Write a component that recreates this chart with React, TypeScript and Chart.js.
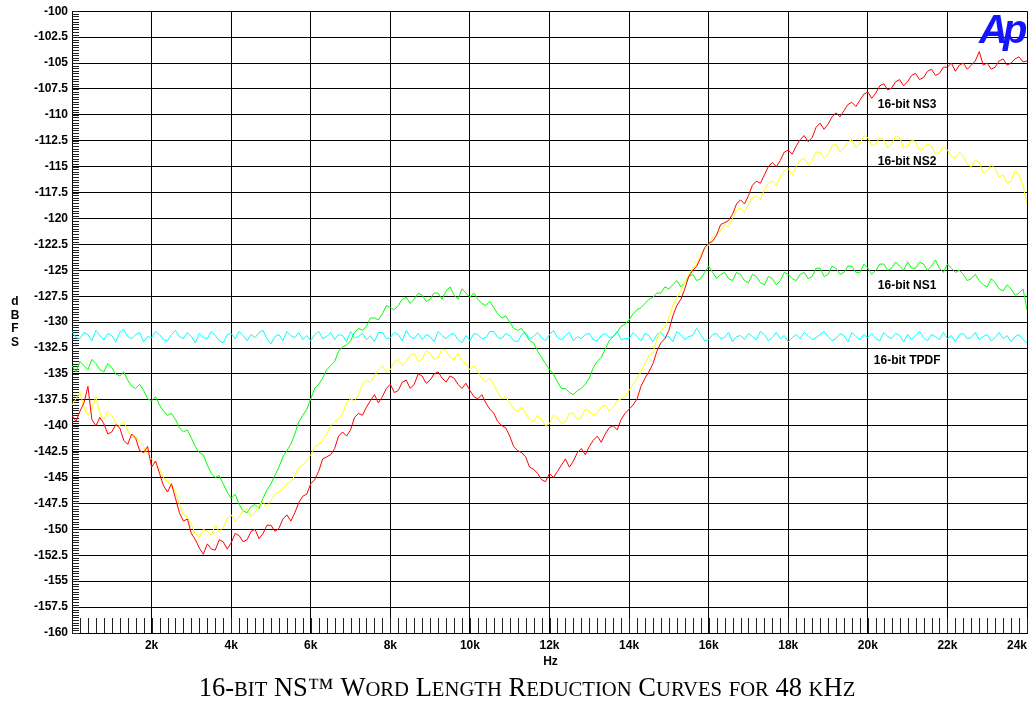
import { useEffect, useRef } from 'react';
import { Chart, registerables } from 'chart.js';

Chart.register(...registerables);

// Noise-shaped dither spectra, one reading every 100 Hz from 0 to 24 kHz (dBFS).
// Each row below covers 1 kHz.
const FREQ_STEP_HZ = 100;

const NS3 = [
  -139.0, -139.6, -138.6, -137.8, -136.2, -139.4, -140.0, -139.2, -139.8, -140.8,
  -140.6, -139.9, -140.2, -141.4, -141.8, -140.8, -141.2, -142.4, -142.6, -142.0,
  -144.0, -143.4, -144.6, -145.8, -146.4, -145.6, -147.0, -148.4, -149.2, -149.0,
  -150.4, -151.0, -151.8, -152.4, -151.4, -151.9, -152.0, -151.0, -151.2, -151.9,
  -151.3, -150.4, -150.6, -151.2, -151.0, -150.2, -150.0, -150.9, -150.4, -149.6,
  -149.6, -150.2, -149.9, -149.0, -148.6, -149.2, -148.4, -147.4, -146.8, -146.6,
  -145.6, -145.2, -144.4, -143.2, -143.0, -142.8, -142.2, -141.0, -140.6, -141.0,
  -140.4, -139.2, -138.8, -139.0, -138.2, -137.6, -137.0, -137.8, -137.2, -136.4,
  -136.0, -136.8, -136.6, -135.8, -135.6, -136.4, -136.0, -135.0, -135.2, -135.9,
  -135.6, -135.0, -134.8, -135.4, -135.8, -135.2, -135.4, -136.0, -136.4, -135.9,
  -136.6, -137.2, -137.4, -137.0, -137.8, -138.4, -138.8, -139.6, -140.0, -140.2,
  -141.0, -142.0, -142.4, -142.6, -143.0, -144.0, -144.2, -144.6, -145.2, -145.4,
  -144.6, -145.0, -144.4, -143.8, -143.2, -144.0, -143.4, -142.6, -142.2, -142.8,
  -142.0, -141.4, -141.0, -141.6, -140.8, -140.2, -140.0, -140.4, -139.4, -138.8,
  -138.4, -138.0, -137.4, -136.2, -135.4, -134.8, -134.0, -132.8, -132.0, -131.6,
  -130.8, -129.4, -128.4, -127.8, -126.8, -125.6, -125.0, -124.6, -123.8, -122.8,
  -122.4, -122.2, -121.6, -120.6, -120.4, -120.2, -119.6, -118.6, -118.2, -118.6,
  -117.8, -116.8, -116.4, -116.6, -115.8, -115.0, -114.6, -115.0, -114.4, -113.6,
  -113.4, -113.8, -113.0, -112.4, -112.0, -112.6, -112.2, -111.2, -110.8, -111.4,
  -110.9, -110.2, -109.8, -110.2, -109.6, -109.0, -108.8, -109.2, -108.6, -108.0,
  -107.8, -108.4, -107.9, -107.2, -107.0, -107.6, -107.4, -106.8, -106.6, -107.2,
  -106.8, -106.2, -106.0, -106.6, -106.4, -105.8, -105.6, -106.2, -106.0, -105.4,
  -105.4, -105.0, -105.8, -105.2, -105.0, -105.6, -105.2, -104.8, -103.9, -105.2,
  -105.0, -105.6, -105.4, -104.8, -104.6, -105.2, -105.0, -104.6, -104.4, -104.9,
  -104.8,
];

const NS2 = [
  -138.0, -137.4, -136.8, -138.2, -139.0, -138.4, -137.2, -138.8, -139.4, -138.6,
  -139.0, -139.8, -140.0, -139.6, -140.4, -141.2, -141.0, -141.6, -142.0, -142.8,
  -143.2, -143.6, -144.2, -145.0, -145.4, -145.8, -146.4, -147.6, -148.6, -148.8,
  -149.6, -150.4, -150.8, -150.0, -150.2, -150.6, -149.6, -150.2, -149.8, -149.0,
  -148.6, -149.2, -148.8, -148.2, -148.0, -148.8, -148.4, -147.6, -147.4, -147.8,
  -147.2, -146.6, -146.4, -146.0, -145.6, -145.4, -144.8, -144.0, -143.8, -143.4,
  -142.8, -142.0, -141.8, -141.4, -140.8, -140.0, -139.6, -139.4, -138.8, -137.8,
  -137.4, -137.6, -137.0, -136.0, -135.6, -135.8, -135.2, -134.6, -134.2, -134.8,
  -134.6, -133.8, -133.6, -134.2, -133.8, -133.2, -133.0, -133.8, -133.6, -132.8,
  -133.0, -133.6, -133.4, -132.6, -132.8, -133.4, -133.6, -133.0, -133.8, -134.0,
  -134.6, -134.2, -134.8, -135.4, -135.8, -135.4, -136.0, -136.8, -137.4, -137.2,
  -137.8, -138.4, -138.6, -138.2, -138.8, -139.4, -139.6, -139.0, -139.4, -140.0,
  -139.8, -139.0, -139.2, -139.8, -139.6, -138.8, -138.8, -139.4, -139.2, -138.4,
  -138.6, -139.0, -138.8, -138.2, -138.0, -138.6, -138.2, -137.6, -137.4, -137.2,
  -136.6, -136.0, -135.4, -134.8, -134.0, -133.2, -133.0, -131.6, -130.8, -130.4,
  -129.6, -128.4, -127.6, -127.0, -126.2, -125.4, -124.8, -124.4, -123.4, -123.0,
  -122.6, -121.8, -121.4, -121.2, -120.6, -120.8, -120.0, -119.2, -119.0, -119.4,
  -118.6, -118.0, -117.8, -118.2, -117.2, -116.6, -116.4, -116.8, -116.0, -115.4,
  -115.2, -115.8, -115.0, -114.4, -114.2, -114.8, -114.4, -113.6, -113.6, -114.2,
  -113.8, -113.0, -112.8, -113.6, -113.2, -112.6, -112.4, -113.2, -112.8, -112.0,
  -112.2, -113.0, -112.8, -112.2, -112.4, -113.2, -112.8, -112.0, -112.2, -113.2,
  -113.0, -112.4, -112.6, -113.4, -113.2, -112.8, -113.0, -113.8, -113.6, -113.0,
  -113.4, -114.0, -114.2, -113.6, -114.0, -114.8, -115.0, -114.4, -114.6, -115.6,
  -115.4, -114.8, -115.2, -116.0, -115.8, -116.6, -116.4, -115.4, -115.8, -116.8,
  -118.6,
];

const NS1 = [
  -134.2, -134.8, -133.8, -134.2, -134.6, -133.6, -134.0, -134.6, -134.8, -134.0,
  -134.4, -135.0, -135.2, -134.8, -135.6, -136.2, -136.4, -136.0, -136.6, -137.4,
  -137.6, -137.2, -138.0, -138.6, -139.0, -138.8, -139.4, -140.2, -140.6, -140.4,
  -141.2, -142.0, -142.6, -142.8, -143.8, -144.6, -145.0, -144.8, -145.6, -146.4,
  -147.0, -146.6, -147.6, -148.2, -148.4, -147.8, -147.6, -148.0, -147.0, -146.2,
  -145.6, -144.8, -144.0, -143.0, -142.4, -141.8, -140.8, -139.6, -139.0, -138.4,
  -137.4, -136.4, -136.0, -135.4, -134.6, -134.2, -133.8, -132.8, -132.4, -132.2,
  -131.8, -131.0, -130.6, -130.8, -130.4, -129.6, -129.6, -129.8, -129.2, -128.4,
  -128.6, -128.8, -128.4, -127.8, -127.6, -128.2, -127.8, -127.2, -127.4, -128.0,
  -127.8, -127.2, -127.2, -127.8, -127.0, -126.6, -127.4, -127.8, -126.8, -127.2,
  -127.6, -127.2, -127.8, -128.2, -128.4, -128.0, -128.6, -129.2, -129.6, -129.4,
  -130.0, -130.6, -130.8, -130.6, -131.2, -131.8, -132.0, -132.8, -133.4, -134.0,
  -134.6, -135.0, -135.8, -136.4, -136.4, -136.8, -137.0, -136.6, -136.4, -136.0,
  -135.4, -134.4, -133.8, -133.4, -132.6, -131.8, -131.4, -131.0, -130.4, -130.2,
  -129.8, -129.2, -128.8, -128.6, -128.2, -127.8, -127.6, -127.2, -127.2, -126.6,
  -126.8, -126.4, -126.0, -126.6, -126.2, -125.6, -125.4, -126.0, -125.8, -125.2,
  -124.6, -125.2, -125.8, -125.4, -125.2, -125.8, -126.0, -125.2, -125.4, -126.0,
  -126.2, -125.4, -125.6, -126.2, -126.4, -125.6, -125.8, -126.4, -126.0, -125.2,
  -125.4, -125.8, -126.0, -125.4, -125.2, -125.8, -125.6, -124.8, -124.8, -125.6,
  -125.4, -124.6, -124.8, -125.4, -125.2, -124.6, -124.6, -125.2, -125.2, -124.4,
  -124.8, -125.4, -125.0, -124.4, -124.4, -125.0, -124.8, -124.2, -124.6, -125.0,
  -124.2, -124.8, -124.8, -124.2, -124.4, -125.0, -124.6, -124.0, -124.8, -125.2,
  -124.4, -124.8, -125.2, -125.0, -125.4, -126.0, -125.8, -125.4, -126.0, -126.4,
  -126.6, -125.8, -126.2, -126.8, -127.0, -126.4, -126.8, -127.4, -127.2, -126.8,
  -128.8,
];

const TPDF = [
  -130.9, -131.5, -131.6, -131.0, -131.2, -131.8, -130.8, -131.3, -131.7, -131.1,
  -131.3, -131.9, -131.0, -130.7, -131.4, -131.6, -131.2, -131.0, -131.9, -131.4,
  -131.5, -130.9, -131.2, -131.7, -131.8, -131.2, -130.8, -131.4, -131.6, -131.0,
  -131.4, -132.0, -131.1, -131.5, -131.6, -130.9, -131.3, -131.8, -132.0, -131.2,
  -131.1, -131.6, -130.9, -131.3, -131.8, -131.2, -131.5, -131.0, -130.8, -131.6,
  -132.1, -131.4, -131.2, -131.8, -130.9, -131.3, -131.5, -131.0, -131.7, -131.3,
  -131.8, -131.2, -130.9, -131.6, -131.4, -131.0, -131.7, -131.2, -131.3, -131.9,
  -130.9, -131.5, -131.4, -131.1, -131.7, -131.3, -131.9, -131.0, -131.0, -131.6,
  -131.5, -131.0, -131.2, -131.8, -130.8, -131.4, -131.6, -131.1, -131.7, -131.2,
  -131.4, -131.9, -130.9, -131.3, -131.6, -131.2, -131.1, -131.7, -132.0, -131.3,
  -131.8, -131.1, -131.2, -131.6, -131.5, -130.9, -130.9, -131.5, -131.6, -131.1,
  -131.3, -131.8, -131.9, -131.2, -131.0, -131.6, -131.4, -131.0, -131.5, -131.8,
  -131.2, -130.8, -131.5, -131.7, -131.3, -131.0, -131.8, -131.4, -131.6, -131.2,
  -131.1, -131.7, -131.8, -131.3, -131.1, -131.5, -131.4, -130.9, -131.7, -131.6,
  -131.6, -131.0, -131.4, -131.8, -131.1, -131.3, -131.9, -131.2, -131.0, -131.5,
  -131.4, -131.9, -130.9, -131.2, -131.7, -131.4, -131.3, -130.6, -131.2, -131.8,
  -131.7, -131.2, -131.1, -131.6, -131.5, -131.0, -131.9, -131.4, -131.3, -131.7,
  -131.1, -131.4, -131.7, -130.9, -131.2, -131.8, -131.5, -131.0, -131.6, -131.3,
  -131.9, -131.5, -131.2, -131.6, -131.0, -131.3, -131.7, -131.5, -131.2, -130.9,
  -131.4, -131.8, -131.6, -131.1, -131.3, -131.9, -131.0, -131.4, -131.7, -131.2,
  -131.5, -131.1, -131.6, -131.8, -131.0, -131.4, -131.6, -131.1, -131.3, -131.9,
  -131.2, -131.7, -131.3, -130.9, -131.5, -131.8, -131.2, -131.4, -131.7, -131.0,
  -131.6, -131.3, -131.9, -131.2, -131.1, -131.6, -131.5, -131.0, -131.7, -131.4,
  -131.2, -131.8, -131.5, -131.0, -131.6, -131.3, -131.9, -131.4, -131.2, -131.7,
  -132.0,
];

const SERIES_NAMES = ['16-bit NS3', '16-bit NS2', '16-bit NS1', '16-bit TPDF'];
// Where each curve's name sits on the plot: [frequency Hz, level dBFS]
const NAME_ANCHORS: [number, number][] = [
  [20250, -109.0],
  [20250, -114.5],
  [20250, -126.5],
  [20150, -133.7],
];

const X_MIN = 0;
const X_MAX = 24000;
const X_STEP = 2000;
const Y_MIN = -160;
const Y_MAX = -100;
const Y_STEP = 2.5;

const TITLE = '16-bit NS™ Word Length Reduction Curves for 48 kHz';
const X_TITLE = 'Hz';
const Y_TITLE = 'dBFS';

const SANS = '"Liberation Sans", Arial, sans-serif';
const SERIF = '"Liberation Serif", "Times New Roman", serif';
const COLORS = ['#ff0000', '#ffff00', '#00ff00', '#00ffff'];

const FREQS = NS3.map((_, i) => i * FREQ_STEP_HZ);

function toPoints(values: number[]) {
  return values.map((v, i) => ({ x: FREQS[i], y: v }));
}

function drawSmallCaps(ctx: CanvasRenderingContext2D, text: string, cx: number, baseline: number, size: number) {
  const small = size * 0.78;
  const runs: { s: string; sz: number }[] = [];
  for (const ch of text) {
    const lower = ch !== ch.toUpperCase();
    const sz = lower ? small : size;
    const s = lower ? ch.toUpperCase() : ch;
    const last = runs[runs.length - 1];
    if (last && last.sz === sz) last.s += s;
    else runs.push({ s, sz });
  }
  let total = 0;
  const widths = runs.map((r) => {
    ctx.font = `${r.sz}px ${SERIF}`;
    const w = ctx.measureText(r.s).width;
    total += w;
    return w;
  });
  let x = cx - total / 2;
  ctx.textAlign = 'left';
  ctx.textBaseline = 'alphabetic';
  runs.forEach((r, i) => {
    ctx.font = `${r.sz}px ${SERIF}`;
    ctx.fillText(r.s, x, baseline);
    x += widths[i];
  });
}

const minorTicks = {
  id: 'minorTicks',
  beforeDatasetsDraw(chart: any) {
    const { ctx, chartArea: a, scales } = chart;
    const xs = scales.x;
    const ys = scales.y;
    ctx.save();
    ctx.strokeStyle = '#222';
    ctx.lineWidth = 1;
    ctx.beginPath();
    for (let v = Y_MIN; v <= Y_MAX + 1e-9; v += 0.25) {
      const py = Math.round(ys.getPixelForValue(v)) + 0.5;
      ctx.moveTo(a.left, py);
      ctx.lineTo(a.left + 7, py);
    }
    for (let f = X_MIN; f <= X_MAX; f += 200) {
      const px = Math.round(xs.getPixelForValue(f)) + 0.5;
      ctx.moveTo(px, a.bottom);
      ctx.lineTo(px, a.bottom - 15);
    }
    ctx.stroke();
    ctx.restore();
  },
};

const decorations = {
  id: 'decorations',
  afterDraw(chart: any) {
    const { ctx, scales, chartArea: a } = chart;
    const xs = scales.x;
    const ys = scales.y;
    ctx.save();
    ctx.fillStyle = '#000';

    // curve names
    ctx.font = `bold 12px ${SANS}`;
    ctx.textAlign = 'left';
    ctx.textBaseline = 'middle';
    SERIES_NAMES.forEach((name, i) => {
      const [f, v] = NAME_ANCHORS[i];
      ctx.fillText(name, xs.getPixelForValue(f), ys.getPixelForValue(v));
    });

    // vertical axis title, one letter per line
    ctx.textAlign = 'center';
    Y_TITLE.split('').forEach((ch, i) => {
      ctx.fillText(ch, 15, 302 + i * 13.5);
    });

    // horizontal axis title
    ctx.fillText(X_TITLE, (a.left + a.right) / 2 + 1, 662);

    // chart title
    drawSmallCaps(ctx, TITLE, 527, 696, 26.5);

    // logo
    ctx.fillStyle = '#1414ff';
    ctx.textBaseline = 'alphabetic';
    ctx.textAlign = 'left';
    ctx.font = `italic bold 40px ${SANS}`;
    ctx.fillText('A', 979, 43);
    ctx.fillText('p', 1003, 43);
    ctx.restore();
  },
};

export default function App() {
  const canvasRef = useRef<HTMLCanvasElement | null>(null);

  useEffect(() => {
    const canvas = canvasRef.current;
    if (!canvas) return;
    const sets = [NS3, NS2, NS1, TPDF];
    const chart = new Chart(canvas, {
      type: 'line',
      data: {
        datasets: sets.map((vals, i) => ({
          label: SERIES_NAMES[i],
          data: toPoints(vals),
          borderColor: COLORS[i],
          backgroundColor: COLORS[i],
          borderWidth: 1,
          pointRadius: 0,
          tension: 0,
          fill: false,
        })),
      },
      options: {
        responsive: false,
        animation: false,
        events: [],
        layout: { padding: { top: 11, right: 2, bottom: 0, left: 0 } },
        plugins: {
          legend: { display: false },
          tooltip: { enabled: false },
          title: { display: false },
        },
        scales: {
          x: {
            type: 'linear',
            min: X_MIN,
            max: X_MAX,
            afterFit: (s: any) => {
              s.height = 69;
            },
            grid: { color: '#000', lineWidth: 1, drawTicks: false },
            border: { color: '#000', width: 1 },
            ticks: {
              stepSize: X_STEP,
              autoSkip: false,
              maxRotation: 0,
              align: 'inner',
              padding: 5,
              color: '#000',
              font: { family: SANS, size: 12, weight: 'bold' },
              callback: (v: any) => (Number(v) === 0 ? '' : `${Number(v) / 1000}k`),
            },
          },
          y: {
            type: 'linear',
            min: Y_MIN,
            max: Y_MAX,
            afterFit: (s: any) => {
              s.width = 72;
            },
            grid: { color: '#000', lineWidth: 1, drawTicks: false },
            border: { color: '#000', width: 1 },
            ticks: {
              stepSize: Y_STEP,
              autoSkip: false,
              padding: 4,
              color: '#000',
              font: { family: SANS, size: 12, weight: 'bold' },
              callback: (v: any) => String(v),
            },
          },
        },
      },
      plugins: [minorTicks, decorations],
    } as any);
    return () => chart.destroy();
  }, []);

  return (
    <div style={{ position: 'absolute', left: 0, top: 0, width: 1032, height: 702, background: '#fff' }}>
      <canvas ref={canvasRef} width={1032} height={702} style={{ display: 'block' }} />
    </div>
  );
}
